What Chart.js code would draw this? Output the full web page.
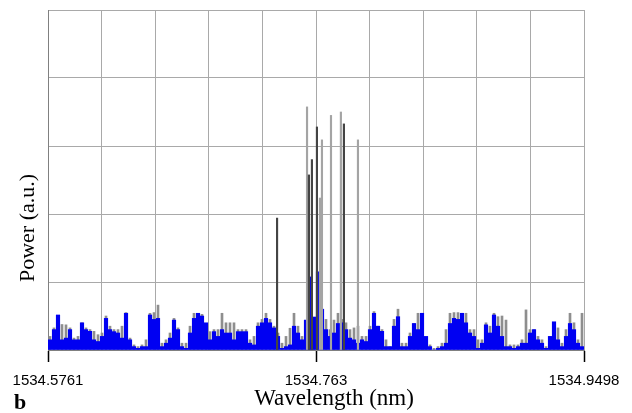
<!DOCTYPE html>
<html>
<head>
<meta charset="utf-8">
<script src="https://cdn.jsdelivr.net/npm/chart.js@4.4.1/dist/chart.umd.min.js"></script>
<style>
  html, body { margin: 0; padding: 0; background: #fff; }
  #wrap { width: 632px; height: 413px; }
</style>
</head>
<body>
<div id="wrap"><canvas id="spectrum" width="632" height="413"></canvas></div>
<script>
// wavelength span of the scan (nm)
const wlStart = 1534.5761;
const wlEnd = 1534.9498;
const tickLabels = ['1534.5761', '1534.763', '1534.9498'];

// noise floor, one value per equal-width bin across the span (a.u., 0-100)
const blueNoise = [
  3, 6, 10.3, 3, 3.5, 6, 3, 3, 8, 6,
  5.5, 3, 2.5, 4, 9.3, 6, 5.4, 5, 3.5, 10.8,
  3, 1, 0.5, 1, 1, 10.3, 9, 9.3, 1, 2,
  3.5, 8.8, 6, 1, 0.5, 5, 9.3, 10.8, 10, 8,
  3, 5.4, 4, 6, 5, 5, 3, 5.4, 5.4, 5.4,
  2, 1.5, 7, 8, 9.3, 8, 6.5, 4, 0.5, 1,
  1.5, 7, 5, 3, 8.8, 21.5, 9.7, 23, 12, 6,
  4, 5, 7.8, 8, 6, 3.5, 3, 2, 3, 2.5,
  6, 10.8, 7, 5.5, 1, 1, 7, 9.8, 1, 1,
  4, 7.8, 6, 10.8, 4, 1, 0, 0.5, 1, 2,
  7.8, 9.3, 9, 10.8, 8, 5, 4, 0.5, 2, 7.4,
  5, 10.3, 7, 4, 1, 1, 0.5, 1, 2, 2,
  5, 6, 3, 2, 0.5, 4, 8.3, 3, 1, 4,
  7.8, 6, 2, 1
];
const grayNoise = [
  4, 6.5, 10, 7.5, 7.4, 6.5, 3.5, 4, 8, 6.5,
  6, 5.5, 4.5, 5, 10, 7, 6, 6, 7, 11,
  3.5, 1.5, 1, 1.5, 3, 10.8, 11, 13.2, 2, 3,
  5, 9.3, 6.5, 2, 2, 7, 10.8, 10.3, 10.5, 6,
  5.4, 6, 6, 10.8, 8, 8, 8, 6, 6, 6,
  3, 4, 8, 9, 10.8, 9, 7, 5, 2, 4,
  6.4, 10.8, 7, 4, 6, 12, 8, 10, 10, 9,
  6, 8.8, 10.8, 9, 8, 6, 6.5, 7, 4, 4,
  7, 11.3, 7, 6, 3, 1, 9, 12, 2, 2,
  5, 7.8, 10.8, 10.8, 3, 1.5, 0.5, 1, 2, 6,
  10.8, 11, 11, 10.8, 10.8, 6, 6, 3, 3, 8,
  7, 10.8, 9.8, 10, 8.8, 1.5, 1.5, 1.5, 3, 11.8,
  6, 6, 4, 3, 1, 4, 7.8, 6.5, 2, 6,
  10.8, 8, 3, 10.8
];

// the tall mode lines
const darkLineWl = [1534.7358, 1534.7580, 1534.7601, 1534.7636, 1534.7824];
const darkLineVal = [38.8, 51.5, 56, 65.6, 66.5];
const lightLineWl = [1534.7567, 1534.7657, 1534.7671, 1534.7734, 1534.7803, 1534.7922];
const lightLineVal = [71.5, 44.7, 61.8, 69, 70, 61.8];

const binWidth = (wlEnd - wlStart) / blueNoise.length;
const binPoints = vals => vals.map((v, i) => ({ x: wlStart + (i + 0.5) * binWidth, y: v }));
const linePoints = (xs, ys) => ys.map((v, i) => ({ x: xs[i], y: v }));

const gridColor = '#a9a9a9';

// axis titles and panel letter (placed off-centre like the original figure)
const extraText = {
    id: 'extraText',
    afterDraw(chart) {
        const ctx = chart.ctx;
        ctx.save();
        ctx.fillStyle = '#000';
        ctx.font = '22px "Liberation Serif"';
        ctx.textAlign = 'center';
        ctx.textBaseline = 'middle';
        ctx.translate(28, 228);
        ctx.rotate(-Math.PI / 2);
        ctx.fillText('Power (a.u.)', 0, 0);
        ctx.restore();

        ctx.save();
        ctx.fillStyle = '#000';
        ctx.font = '23px "Liberation Serif"';
        ctx.textAlign = 'center';
        ctx.textBaseline = 'alphabetic';
        ctx.fillText('Wavelength (nm)', 334, 405);
        ctx.font = 'bold 22px "Liberation Serif"';
        ctx.textAlign = 'left';
        ctx.fillText('b', 14, 409);
        ctx.restore();
    }
};

const chart = new Chart(document.getElementById('spectrum'), {
    type: 'bar',
    data: {
        datasets: [
            { label: 'modes', data: linePoints(darkLineWl, darkLineVal), backgroundColor: '#444', barThickness: 1.5 },
            { label: 'modes (faint)', data: linePoints(lightLineWl, lightLineVal), backgroundColor: '#a4a4a4', barThickness: 1.5 },
            { label: 'noise', data: binPoints(blueNoise), backgroundColor: '#0000f2', barThickness: 3.5 },
            { label: 'noise (grey)', data: binPoints(grayNoise), backgroundColor: '#8e8e8e', barThickness: 2 }
        ]
    },
    options: {
        responsive: false,
        animation: false,
        devicePixelRatio: 1,
        layout: { padding: { left: 0, top: 10, right: 48, bottom: 0 } },
        datasets: { bar: { grouped: false } },
        plugins: {
            legend: { display: false },
            tooltip: { enabled: false }
        },
        scales: {
            x: {
                type: 'linear',
                min: wlStart,
                max: wlEnd,
                offset: false,
                afterBuildTicks: s => {
                    const ticks = [];
                    for (let k = 0; k <= 10; k++) {
                        ticks.push({ value: wlStart + k * (wlEnd - wlStart) / 10 });
                    }
                    s.ticks = ticks;
                },
                afterFit: s => { s.height = 63; },
                grid: {
                    offset: false,
                    color: gridColor,
                    lineWidth: 1,
                    tickLength: 12,
                    tickWidth: 1.5,
                    tickColor: c => (c.index % 5 === 0 ? '#000' : 'rgba(0,0,0,0)')
                },
                border: { color: '#808080' },
                ticks: {
                    autoSkip: false,
                    maxRotation: 0,
                    padding: 10,
                    color: '#000',
                    font: { family: 'Liberation Sans', size: 15 },
                    callback: (v, i) => (i % 5 === 0 ? tickLabels[i / 5] : '')
                }
            },
            y: {
                min: 0,
                max: 100,
                afterFit: s => { s.width = 48; },
                ticks: { display: false, stepSize: 20 },
                grid: { color: gridColor, lineWidth: 1, drawTicks: false },
                border: { color: '#808080' }
            }
        }
    },
    plugins: [extraText]
});
</script>
</body>
</html>
